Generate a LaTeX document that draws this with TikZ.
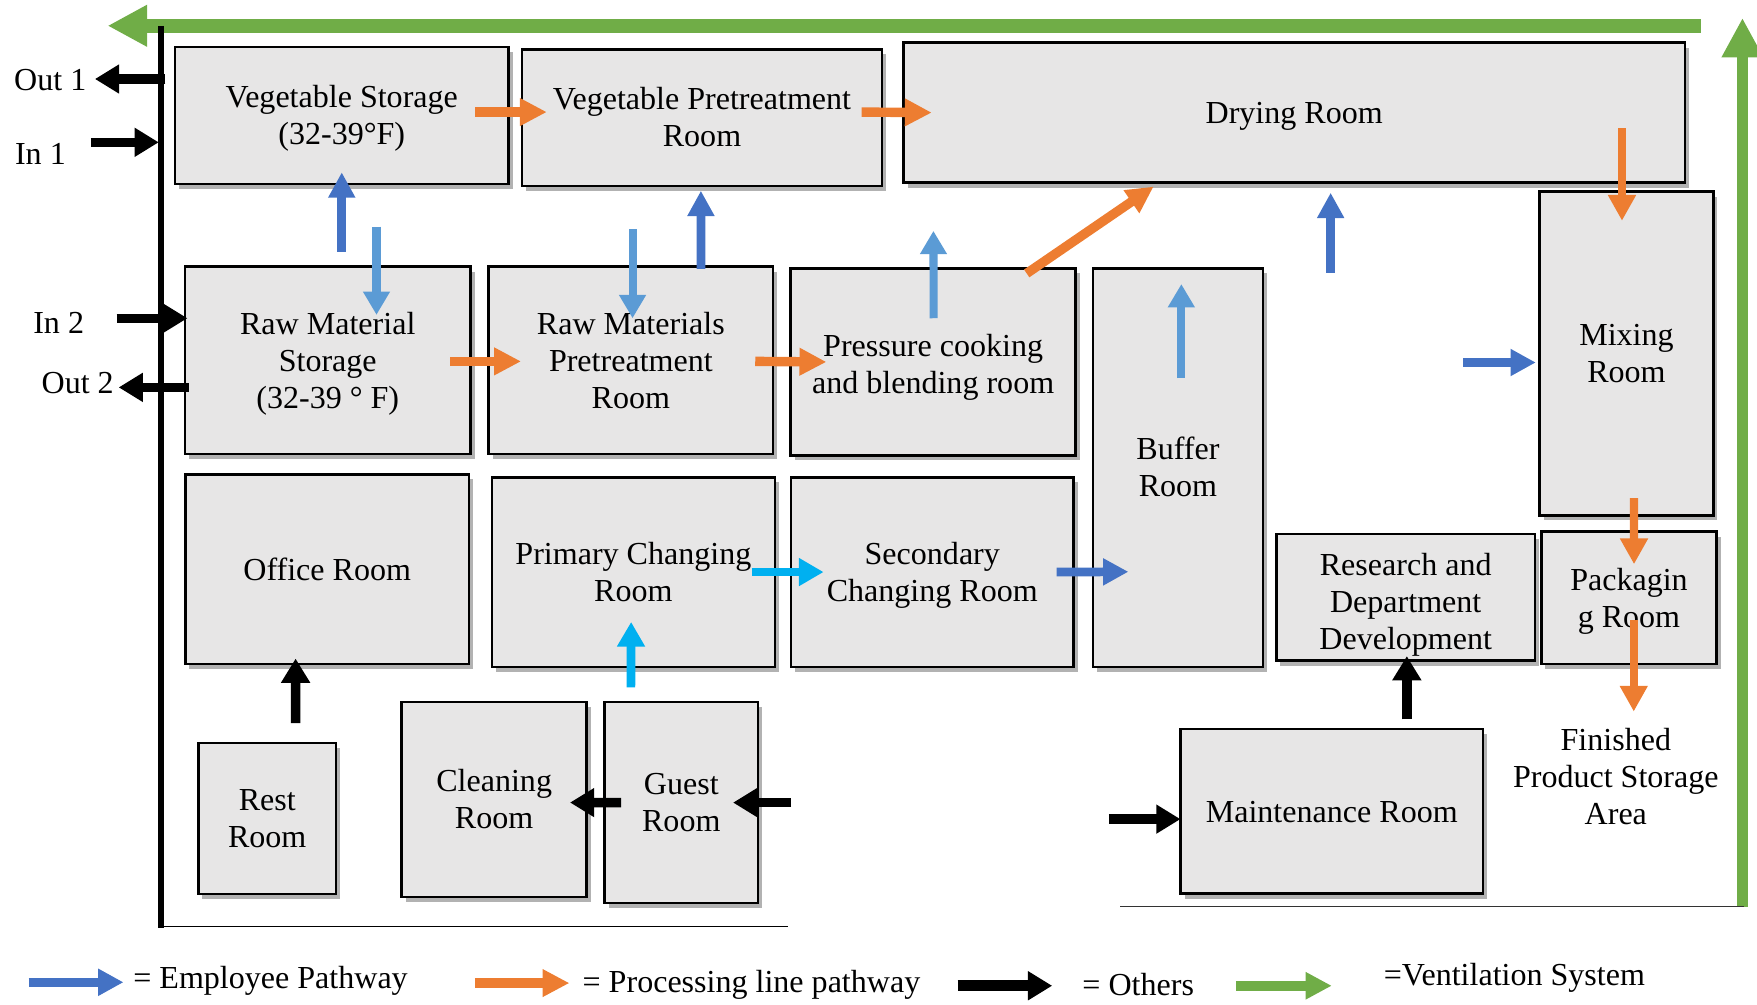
\documentclass[tikz,border=0pt]{standalone}
\usepackage{fontspec}
\setmainfont{Liberation Serif}
\usetikzlibrary{arrows.meta,calc,shadows}

\definecolor{roomgray}{HTML}{E7E6E6}
\definecolor{empblue}{HTML}{4472C4}
\definecolor{emplight}{HTML}{5B9BD5}
\definecolor{chgcyan}{HTML}{00B0F0}
\definecolor{procorange}{HTML}{ED7D31}
\definecolor{ventgreen}{HTML}{70AD47}

\newcommand{\rs}[1][15.8pt]{\rule[-3.1pt]{0pt}{#1}}

\tikzset{
  room/.style 2 args={draw=black, line width=1.1pt, fill=roomgray,
    minimum width=#1*0.5pt, minimum height=#2*0.5pt, inner sep=0pt, outer sep=0pt,
    align=center, drop shadow={shadow xshift=1.8pt, shadow yshift=-2.2pt, opacity=0.3, fill=black},
    execute at end node=\rs},
  lbl/.style={inner sep=0pt, outer sep=0pt, align=center},
  emp/.style={draw=empblue, line width=3.9pt, -{Triangle[length=11.3pt,width=11.4pt]}},
  empl/.style={draw=emplight, line width=3.6pt, -{Triangle[length=10.4pt,width=11.4pt]}},
  chg/.style={draw=chgcyan, line width=3.9pt, -{Triangle[length=11pt,width=11.8pt]}},
  proc/.style={draw=procorange, line width=4.2pt, -{Triangle[length=12pt,width=11.6pt]}},
  procthin/.style={draw=procorange, line width=3.6pt, -{Triangle[length=11.5pt,width=11.8pt]}},
  oth/.style={draw=black, line width=4.2pt, -{Triangle[length=10.8pt,width=12.3pt]}},
  vent/.style={draw=ventgreen, line width=6pt, -{Triangle[length=17.6pt,width=17.4pt]}},
  ventkey/.style={draw=ventgreen, line width=4.6pt, -{Triangle[length=11.7pt,width=11.5pt]}},
}

\begin{document}
\begin{tikzpicture}[x=0.5pt, y=-0.5pt, font=\fontsize{14.3pt}{16.5pt}\selectfont]
\useasboundingbox (0,0) rectangle (1568,896);

% ventilation
\coordinate (ventR) at (1518,23);
\coordinate (ventL) at (96,23);
\coordinate (ventB) at (1555,809);
\coordinate (ventT) at (1555,16);
\draw[vent] (ventR) -- (ventL);
\draw[vent, line width=5.2pt] (ventB) -- (ventT);

% walls
\draw[line width=2.6pt] (143.5,23) -- (143.5,828);
\draw[line width=0.7pt] (143.5,827) -- (703.5,827);
\draw[line width=0.7pt, black!80] (999.6,809) -- (1556,809);

% rooms
\node[room={298}{122}] (vs) at (305,103) {\rs Vegetable Storage\\(32-39°F)};
\node[room={321}{122}] (vp) at (626.5,105) {\rs Vegetable Pretreatment\\Room};
\node[room={697}{125}] (dry) at (1155,100.5) {\rs Drying Room};
\node[room={255}{167}] (rms) at (292.5,321.5) {\rs Raw Material\\Storage\\(32-39 ° F)};
\node[room={254}{167}] (rmp) at (563,321.5) {\rs Raw Materials\\Pretreatment\\Room};
\node[room={254.5}{167}] (pcb) at (832.75,323) {\rs[17.8pt]Pressure cooking\\and blending room};
\node[room={151.5}{355.5}] (buf) at (1051.25,417.25) {\rs Buffer\\Room};
\node[room={155}{289}] (mix) at (1451.5,315.5) {\rs Mixing\\Room};
\node[room={253}{169}] (off) at (292,508) {\rs Office Room};
\node[room={252.5}{169}] (pcr) at (565.25,510.5) {\rs Primary Changing\\Room};
\node[room={252}{169}] (scr) at (832,510.5) {\rs Secondary\\Changing Room};
\node[room={231}{113}] (rdd) at (1254.5,533) {\rs[19.8pt]Research and\\Department\\Development};
\node[room={156.5}{118}] (pkg) at (1453.75,533.5) {\rs Packagin\\g Room};
\node[room={123}{135}] (rest) at (238.5,730.5) {\rs Rest\\Room};
\node[room={165}{174}] (cln) at (441,713.5) {\rs Cleaning\\Room};
\node[room={137}{179.5}] (gst) at (608,716.25) {\rs Guest\\Room};
\node[room={270}{147}] (mnt) at (1188.5,724) {\rs Maintenance Room};
\node[lbl] (fps) at (1442,693) {Finished\\Product Storage\\Area};

% doors
\node[lbl, anchor=east] (out1) at (77,71) {Out 1};
\node[lbl, anchor=east] (in1) at (58.7,137) {In 1};
\node[lbl, anchor=east] (in2) at (75,288) {In 2};
\node[lbl, anchor=east] (out2) at (101.5,342) {Out 2};
\draw[oth] ($(vs.west)+(-8.5,-32.5)$) -- ($(out1.east)+(7.7,-0.5)$);
\draw[oth] ($(in1.east)+(22.3,-10)$) -- ($(vs.west)+(-14.3,24)$);
\draw[oth] ($(in2.east)+(29,-4)$) -- ($(rms.west)+(2.3,-37.5)$);
\draw[oth] ($(rms.west)+(3.4,24.2)$) -- ($(out2.east)+(4.4,3.7)$);

% processing line
\draw[proc] ($(vs.east)+(-30,-3)$) -- ($(vp.west)+(22,-5)$);
\draw[proc] ($(vp.east)+(-18,-5)$) -- ($(dry.west)+(25,0)$);
\draw[proc] ($(rms.east)+(-18,1)$) -- ($(rmp.west)+(29,1)$);
\draw[proc] ($(rmp.east)+(-16,1)$) -- ($(pcb.west)+(32,0)$);
\draw[proc] ($(pcb.north)+(83.5,4.5)$) -- ($(dry.south)+(-125.5,3.5)$);
\draw[procthin] ($(dry.south east)+(-56,-48.5)$) -- ($(mix.north)+(-4,26)$);
\draw[procthin] ($(mix.south)+(6.7,-15.4)$) -- ($(pkg.north)+(4.5,29)$);
\draw[procthin] ($(pkg.north)+(4.25,79)$) -- ($(pkg.south)+(4.25,42.5)$);

% employees
\draw[emp] ($(rms.north)+(12.5,-13.4)$) -- ($(vs.south)+(0,-10.2)$);
\draw[empl] ($(vs.south)+(31,38.3)$) -- ($(rms.north)+(43.5,43)$);
\draw[emp] ($(rmp.north)+(62.6,2)$) -- ($(vp.south)+(-1,4.2)$);
\draw[empl] ($(vp.south)+(-62,38.7)$) -- ($(rmp.north)+(1.5,46)$);
\draw[empl] ($(pcb.north)+(0.5,44.5)$) -- ($(dry.south)+(-322,43)$);
\draw[emp] ($(dry.south)+(32.5,80.3)$) -- ($(dry.south)+(32.5,9)$);
\draw[empl] ($(buf.north)+(3,98)$) -- ($(buf.north)+(3,14)$);
\draw[emp] ($(mix.west)+(-68,8)$) -- ($(mix.west)+(-3.4,8)$);
\draw[emp] ($(scr.east)+(-15,0)$) -- ($(buf.west)+(31.5,93)$);
\draw[chg] ($(pcr.east)+(-20.5,0)$) -- ($(scr.west)+(29,0)$);
\draw[chg] ($(gst.north)+(-45,-13)$) -- ($(pcr.south)+(-2,-40)$);

% others
\draw[oth] ($(rest.north)+(25.3,-17.7)$) -- ($(off.south)+(-28.2,-4.8)$);
\draw[oth] ($(gst.west)+(14.8,0)$) -- ($(cln.east)+(-14.8,2.7)$);
\draw[oth] ($(gst.east)+(29.5,0)$) -- ($(gst.east)+(-22.3,0)$);
\draw[oth] ($(mnt.west)+(-64,7)$) -- ($(mnt.west)+(0,7)$);
\draw[oth] ($(mnt.north)+(67,-8.5)$) -- ($(rdd.south)+(1,-4)$);

% legend
\node[lbl, anchor=west] (legemp) at (119,875) {= Employee Pathway};
\node[lbl, anchor=west] (legproc) at (520,879) {= Processing line pathway};
\node[lbl, anchor=west] (legoth) at (966,879) {= Others};
\node[lbl, anchor=west] (legvent) at (1235,873) {=Ventilation System};
\draw[emp] ($(legemp.west)+(-93.4,1.6)$) -- ($(legemp.west)+(-8.8,1.6)$);
\draw[proc] ($(legproc.west)+(-96.3,-1.7)$) -- ($(legproc.west)+(-11.8,-1.7)$);
\draw[oth, line width=5pt] ($(legoth.west)+(-111.5,0.7)$) -- ($(legoth.west)+(-27,0.7)$);
\draw[ventkey] ($(legvent.west)+(-132,6.7)$) -- ($(legvent.west)+(-46.5,6.7)$);

\end{tikzpicture}
\end{document}
